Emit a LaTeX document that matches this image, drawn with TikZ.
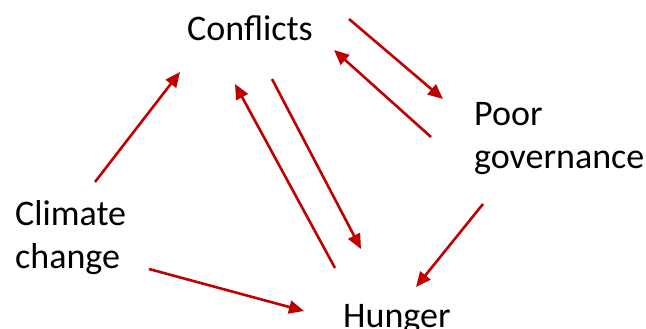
\documentclass[tikz,border=0pt]{standalone}
\usepackage{fontspec}
\setmainfont{Carlito}
\usetikzlibrary{arrows.meta}
\definecolor{arrowred}{HTML}{C00000}
\tikzset{
  label text/.style={inner sep=0pt, anchor=base west, align=left,
    font=\fontsize{36}{43}\selectfont},
  link/.style={draw=arrowred, line width=2.6pt,
    -{Triangle[length=15pt,width=13pt]}}
}
\begin{document}
\begin{tikzpicture}[x=1pt,y=-1pt]
\useasboundingbox (0,0) rectangle (646,329);

% labels (base anchor sits on the last line)
\node[label text] (conflicts) at (187,41) {Conflicts};
\node[label text] (governance) at (474,168) {Poor\\governance};
\node[label text] (climate) at (15,268) {Climate\\change};
\node[label text] (hunger) at (343,327) {Hunger};

% arrow end points
\coordinate (c1) at (95,182);   \coordinate (c2) at (180,72);
\coordinate (p1) at (349,19);   \coordinate (p2) at (443,99);
\coordinate (p3) at (431,137);  \coordinate (p4) at (334,50);
\coordinate (h1) at (272,79);   \coordinate (h2) at (361,249);
\coordinate (h3) at (335,268);  \coordinate (h4) at (235,84);
\coordinate (g1) at (483,204);  \coordinate (g2) at (416,287);
\coordinate (k1) at (149,269);  \coordinate (k2) at (304,311);

% causal links
\draw[link] (c1) -- (c2);
\draw[link] (p1) -- (p2);
\draw[link] (p3) -- (p4);
\draw[link] (h1) -- (h2);
\draw[link] (h3) -- (h4);
\draw[link] (g1) -- (g2);
\draw[link] (k1) -- (k2);
\end{tikzpicture}
\end{document}
